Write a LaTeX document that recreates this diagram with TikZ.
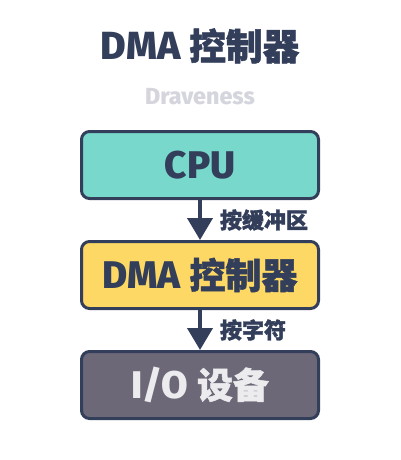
\documentclass[tikz,border=0pt]{standalone}
\usepackage{fontspec}
\setmainfont{Fira Sans}[Scale=1.07, BoldFont={Fira Sans ExtraBold}]
\newfontfamily\cjk{Noto Sans CJK SC}[FakeBold=1.4]
\usepackage{tikz}
\usetikzlibrary{positioning, arrows.meta}
\definecolor{marino}{RGB}{50, 62, 90}
\definecolor{turquesa}{RGB}{120, 216, 204}
\definecolor{amarillo}{RGB}{253, 216, 100}
\definecolor{gris}{RGB}{108, 104, 120}
\definecolor{niebla}{RGB}{213, 214, 221}
\definecolor{blanco}{RGB}{236, 236, 238}
\tikzset{
    caja/.style={draw=marino, rectangle, line width=2.25pt, rounded corners=6pt, minimum width=177.75pt, minimum height=50.25pt, text=marino, font=\fontsize{27}{31}\selectfont\bfseries},
    conn/.style={-{Triangle[width=18.75pt, length=16.5pt]}, marino, line width=3pt},
    etiq/.style={text=marino, inner sep=0pt, font=\fontsize{16.5}{20}\selectfont\bfseries\cjk},
}

\begin{document}
\begin{tikzpicture}[x=0.75pt, y=-0.75pt, node distance=30pt]
        \useasboundingbox (0,0) rectangle (400,460);

        \node[anchor=base, text=marino, font=\fontsize{27.5}{32}\selectfont\bfseries] (tit) at (200,60) {DMA {\cjk 控制器}};
        \node[anchor=base, text=niebla, font=\fontsize{16.3}{20}\selectfont\bfseries] (aut) at (200,104) {Draveness};

        \node[caja, fill=turquesa] (cpu) at (200,165) {CPU};
        \node[caja, fill=amarillo, below=of cpu] (dma) {DMA {\cjk 控制器}};
        \node[caja, fill=gris, text=blanco, below=of dma] (io) {I/O {\cjk 设备}};

        \draw[conn] (cpu) -- node[etiq, right=13.5pt] (txt1) {按缓冲区} (dma);
        \draw[conn] (dma) -- node[etiq, right=13.5pt] (txt2) {按字符} (io);
\end{tikzpicture}
\end{document}
